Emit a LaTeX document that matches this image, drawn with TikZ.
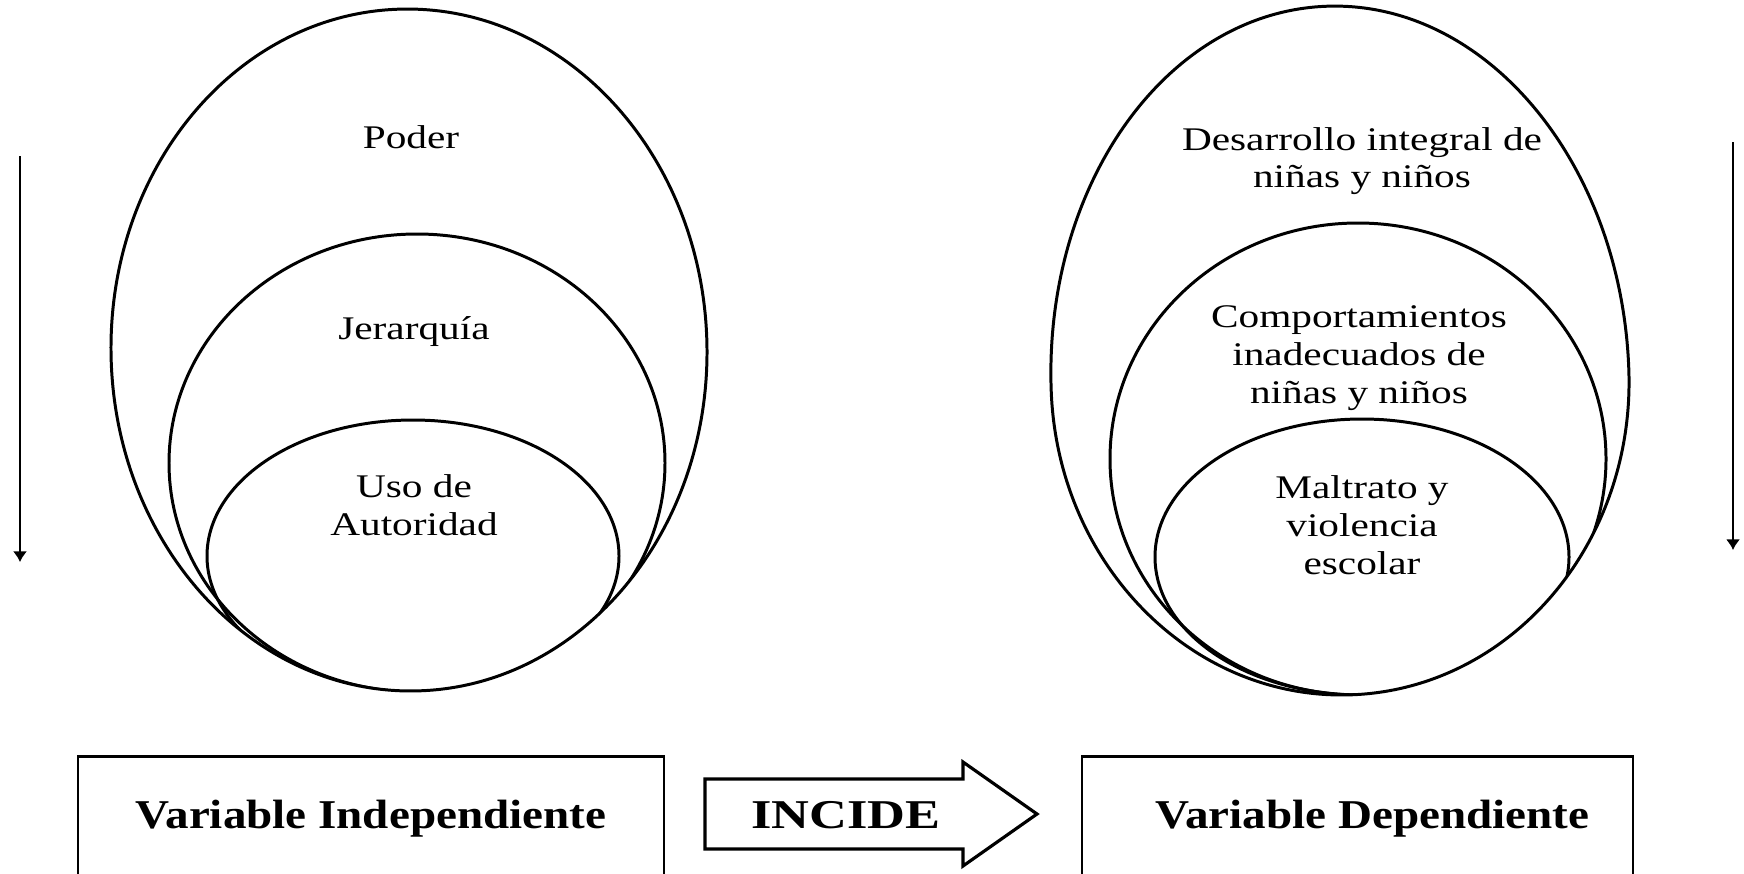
\documentclass[tikz,border=0pt]{standalone}
\usepackage{fontspec}
\setmainfont{Liberation Serif}
\newfontfamily\txtfont{Liberation Serif}[FakeStretch=1.25]
\newfontfamily\lblfont{Liberation Serif}[FakeStretch=1.15]
\newfontfamily\incfont{Liberation Serif}[FakeStretch=1.28]
\usetikzlibrary{arrows.meta}

\def\egg{(1051,380) arc[start angle=180,end angle=360,x radius=289,y radius=374]
  arc[start angle=0,end angle=180,x radius=289,y radius=315] -- cycle}

\begin{document}
\begin{tikzpicture}[>={Latex[length=6pt,width=8pt]},x=0.02cm,y=-0.02cm,
  ring/.style={line width=1.7pt},
  lvl/.style={align=center,font=\txtfont\fontsize{18.8}{21.5}\selectfont},
  varbox/.style={draw,line width=1.5pt,minimum height=2.5cm,
    font=\lblfont\bfseries\fontsize{23.3}{26}\selectfont}]

\useasboundingbox (0,0) rectangle (1744,873);

% independent variable
\draw[ring,rotate around={1.2:(409,350)}] (409,350) ellipse [x radius=298,y radius=341];
\begin{scope}
  \clip[rotate around={1.2:(409,350)}] (409,350) ellipse [x radius=298,y radius=341];
  \draw[ring] (417,463) ellipse [x radius=248,y radius=229];
  \draw[ring] (413,556) ellipse [x radius=206,y radius=136];
\end{scope}

\node[lvl] (poder) at (411,137) {Poder};
\node[lvl] (jer) at (414,332) {Jerarquía};
\node[lvl] (uso) at (414,505) {Uso de\\Autoridad};

% dependent variable
\draw[ring,rotate around={2:(1340,380)}] \egg;
\begin{scope}
  \clip[rotate around={2:(1340,380)}] \egg;
  \draw[ring] (1358,459) ellipse [x radius=248,y radius=236];
  \draw[ring] (1362,557) ellipse [x radius=207,y radius=138];
\end{scope}

\node[lvl] (des) at (1362,161) {Desarrollo integral de\\niñas y niños};
\node[lvl] (comp) at (1359,358) {Comportamientos\\inadecuados de\\niñas y niños};
\node[lvl] (malt) at (1362,525) {Maltrato y\\violencia\\escolar};

% side arrows
\coordinate (ltop) at (20,156);
\coordinate (lbot) at (20,562);
\coordinate (rtop) at (1733,142);
\coordinate (rbot) at (1733,550);
\draw[->,line width=1.1pt] (ltop)--(lbot);
\draw[->,line width=1.1pt] (rtop)--(rbot);

% boxes
\node[varbox,minimum width=11.72cm] (vi) at (371,819) {Variable Independiente};
\node[varbox,minimum width=11.02cm] (vd) at (1357.5,819) {\hspace*{0.6cm}Variable Dependiente};

\draw[line width=1.8pt,line join=miter] (705,779)--(963,779)--(963,762)--(1037,814)
  --(963,866)--(963,849)--(705,849)--cycle;
\node[font=\incfont\bfseries\fontsize{23.3}{26}\selectfont] (inc) at (846,815) {INCIDE};

\end{tikzpicture}
\end{document}
